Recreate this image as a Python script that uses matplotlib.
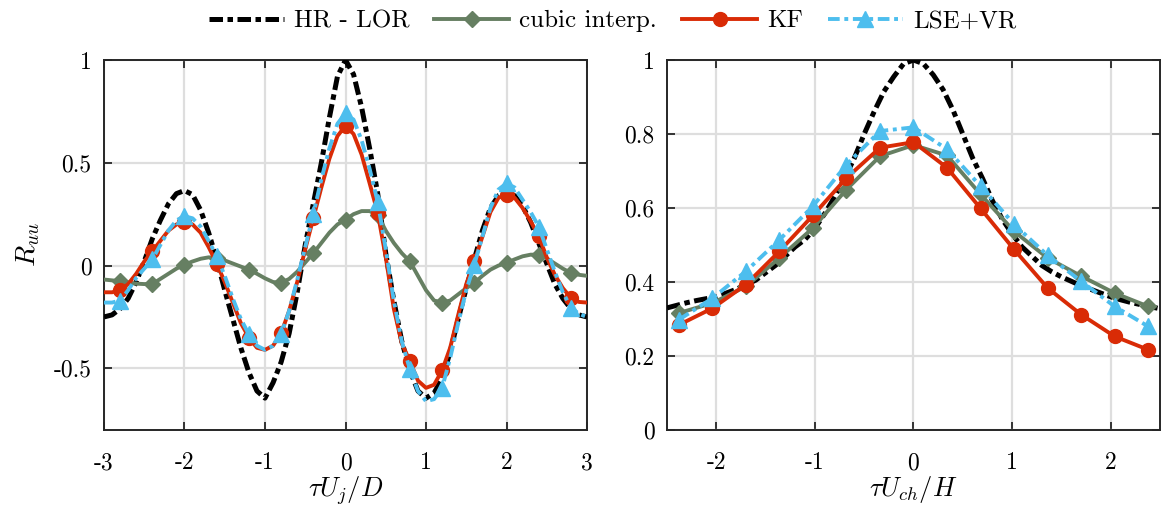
import numpy as np
import matplotlib
matplotlib.use("Agg")
import matplotlib.pyplot as plt

plt.rcParams["font.family"] = ["cmr10", "DejaVu Serif"]
plt.rcParams["mathtext.fontset"] = "cm"
plt.rcParams["axes.unicode_minus"] = False
plt.rcParams["axes.formatter.use_mathtext"] = False

# ── Colours ──
C_HR = "#000000"
C_CUB = "#667f62"
C_KF = "#d92b06"
C_LSE = "#4dbeee"
C_GRID = "#dedede"
C_AX = "#262626"

# ── Jet: lag tau*U_j/D, dense curves every 0.1, markers every 0.4 ──
tau_jet = np.round(np.arange(-30, 31) / 10, 1)
hr_jet = [-0.25, -0.24, -0.21, -0.16, -0.08, 0.02, 0.13, 0.22, 0.30, 0.35,
          0.365, 0.345, 0.27, 0.16, 0.03, -0.12, -0.26, -0.40, -0.52, -0.61,
          -0.645, -0.57, -0.47, -0.33, -0.13, 0.10, 0.30, 0.50, 0.72, 0.92,
          1.00, 0.93, 0.77, 0.57, 0.35, 0.06, -0.17, -0.37, -0.51, -0.61,
          -0.645, -0.62, -0.55, -0.42, -0.26, -0.11, 0.03, 0.17, 0.28, 0.34,
          0.355, 0.34, 0.29, 0.21, 0.11, 0.01, -0.09, -0.16, -0.21, -0.24,
          -0.25]
cub_jet = [-0.068, -0.072, -0.076, -0.082, -0.088, -0.09, -0.09, -0.065, -0.04, -0.015,
           0.005, 0.02, 0.033, 0.04, 0.037, 0.025, 0.01, -0.005, -0.02, -0.04,
           -0.062, -0.08, -0.084, -0.065, -0.03, 0.015, 0.06, 0.11, 0.16, 0.20,
           0.224, 0.25, 0.265, 0.265, 0.245, 0.17, 0.11, 0.06, 0.02, -0.05,
           -0.12, -0.17, -0.18, -0.17, -0.14, -0.11, -0.084, -0.05, -0.02, 0.0,
           0.013, 0.03, 0.045, 0.053, 0.053, 0.035, 0.01, -0.015, -0.036, -0.045,
           -0.05]
kf_jet = [-0.13, -0.13, -0.12, -0.09, -0.04, 0.02, 0.07, 0.12, 0.17, 0.20,
          0.21, 0.20, 0.16, 0.09, 0.01, -0.08, -0.18, -0.28, -0.35, -0.40,
          -0.41, -0.39, -0.33, -0.22, -0.08, 0.08, 0.23, 0.38, 0.52, 0.63,
          0.68, 0.64, 0.54, 0.40, 0.256, 0.04, -0.21, -0.38, -0.465, -0.56,
          -0.595, -0.58, -0.51, -0.40, -0.24, -0.09, 0.02, 0.14, 0.26, 0.33,
          0.345, 0.33, 0.28, 0.215, 0.143, 0.04, -0.045, -0.11, -0.157, -0.177,
          -0.18]
lse_jet = [-0.18, -0.18, -0.17, -0.12, -0.06, -0.015, 0.03, 0.10, 0.17, 0.22,
           0.24, 0.23, 0.19, 0.12, 0.045, -0.05, -0.16, -0.26, -0.335, -0.39,
           -0.41, -0.39, -0.335, -0.22, -0.07, 0.09, 0.25, 0.42, 0.57, 0.69,
           0.74, 0.71, 0.61, 0.47, 0.31, 0.08, -0.17, -0.37, -0.505, -0.61,
           -0.66, -0.65, -0.595, -0.45, -0.28, -0.12, 0.005, 0.14, 0.28, 0.37,
           0.40, 0.38, 0.32, 0.26, 0.19, 0.08, -0.03, -0.13, -0.205, -0.235,
           -0.25]

# ── Channel: lag tau*U_ch/H ──
tau_ch_hr = np.round(np.arange(-25, 26) / 10, 1)
hr_ch = [0.33, 0.337, 0.344, 0.35, 0.355, 0.36, 0.37, 0.38, 0.393, 0.405,
         0.425, 0.445, 0.47, 0.495, 0.515, 0.545, 0.585, 0.63, 0.68, 0.735,
         0.80, 0.86, 0.915, 0.955, 0.99, 1.00, 0.99, 0.96, 0.92, 0.865,
         0.80, 0.735, 0.68, 0.62, 0.57, 0.53, 0.495, 0.47, 0.445, 0.428,
         0.414, 0.402, 0.39, 0.38, 0.37, 0.36, 0.352, 0.345, 0.339, 0.333,
         0.328]
tau_ch = [-2.38, -2.04, -1.70, -1.36, -1.02, -0.68, -0.34, 0.0,
          0.34, 0.68, 1.02, 1.36, 1.70, 2.04, 2.38]
cub_ch = [0.316, 0.343, 0.388, 0.465, 0.546, 0.65, 0.74, 0.77,
          0.742, 0.637, 0.537, 0.465, 0.416, 0.370, 0.334]
kf_ch = [0.284, 0.329, 0.393, 0.483, 0.58, 0.681, 0.763, 0.778,
         0.709, 0.599, 0.488, 0.384, 0.312, 0.253, 0.217]
lse_ch = [0.298, 0.356, 0.429, 0.514, 0.605, 0.717, 0.808, 0.818,
          0.759, 0.659, 0.556, 0.472, 0.402, 0.334, 0.28]

HR_STYLE = dict(color=C_HR, lw=3.6, dashes=(2.7, 0.9, 1.1, 0.9))
CUB_STYLE = dict(color=C_CUB, lw=2.8, marker="D", ms=8, mfc=C_CUB, mec=C_CUB)
KF_STYLE = dict(color=C_KF, lw=2.8, marker="o", ms=10, mfc=C_KF, mec=C_KF)
LSE_STYLE = dict(color=C_LSE, lw=2.8, marker="^", ms=11, mfc=C_LSE, mec=C_LSE,
                 dashes=(3.0, 1.2, 1.0, 1.2))

fig = plt.figure(figsize=(11.71, 5.09), dpi=100)
ax1 = fig.add_axes([0.0888, 0.1552, 0.4125, 0.7269])
ax2 = fig.add_axes([0.5696, 0.1552, 0.4210, 0.7269])

mk = slice(2, None, 4)
ax1.plot(tau_jet, hr_jet, label="HR - LOR", zorder=3, **HR_STYLE)
ax1.plot(tau_jet, cub_jet, markevery=mk, label="cubic interp.", zorder=4, **CUB_STYLE)
ax1.plot(tau_jet, kf_jet, markevery=mk, label="KF", zorder=5, **KF_STYLE)
ax1.plot(tau_jet, lse_jet, markevery=mk, label="LSE+VR", zorder=6, **LSE_STYLE)

ax2.plot(tau_ch_hr, hr_ch, zorder=3, **HR_STYLE)
ax2.plot(tau_ch, cub_ch, zorder=4, **CUB_STYLE)
ax2.plot(tau_ch, kf_ch, zorder=5, **KF_STYLE)
ax2.plot(tau_ch, lse_ch, zorder=6, **LSE_STYLE)

ax1.set_xlim(-3, 3)
ax1.set_ylim(-0.8, 1)
ax1.set_xticks([-3, -2, -1, 0, 1, 2, 3])
ax1.set_xticklabels(["-3", "-2", "-1", "0", "1", "2", "3"])
ax1.set_yticks([-0.5, 0, 0.5, 1])
ax1.set_yticklabels(["-0.5", "0", "0.5", "1"])
ax1.set_xlabel(r"$\tau U_j/D$", fontsize=19, labelpad=0)
ax1.set_ylabel(r"$R_{uu}$", fontsize=20, labelpad=8)

ax2.set_xlim(-2.5, 2.5)
ax2.set_ylim(0, 1)
ax2.set_xticks([-2, -1, 0, 1, 2])
ax2.set_xticklabels(["-2", "-1", "0", "1", "2"])
ax2.set_yticks([0, 0.2, 0.4, 0.6, 0.8, 1])
ax2.set_yticklabels(["0", "0.2", "0.4", "0.6", "0.8", "1"])
ax2.set_xlabel(r"$\tau U_{ch}/H$", fontsize=19, labelpad=0)

for ax in (ax1, ax2):
    ax.grid(True, color=C_GRID, lw=1.6, zorder=0)
    ax.set_axisbelow(True)
    for sp in ax.spines.values():
        sp.set_color(C_AX)
        sp.set_linewidth(1.4)
    ax.tick_params(direction="in", top=True, right=True, length=6, width=1.3,
                   colors=C_AX, labelsize=17, labelcolor="black")
    ax.tick_params(axis="x", pad=16)
    ax.tick_params(axis="y", pad=9)

fig.legend(loc="upper center", bbox_to_anchor=(0.523, 1.025), ncol=4,
           frameon=False, fontsize=18, handlelength=3.0, columnspacing=1.0,
           handletextpad=0.4)

fig.savefig("out.png", dpi=100, facecolor="white")
